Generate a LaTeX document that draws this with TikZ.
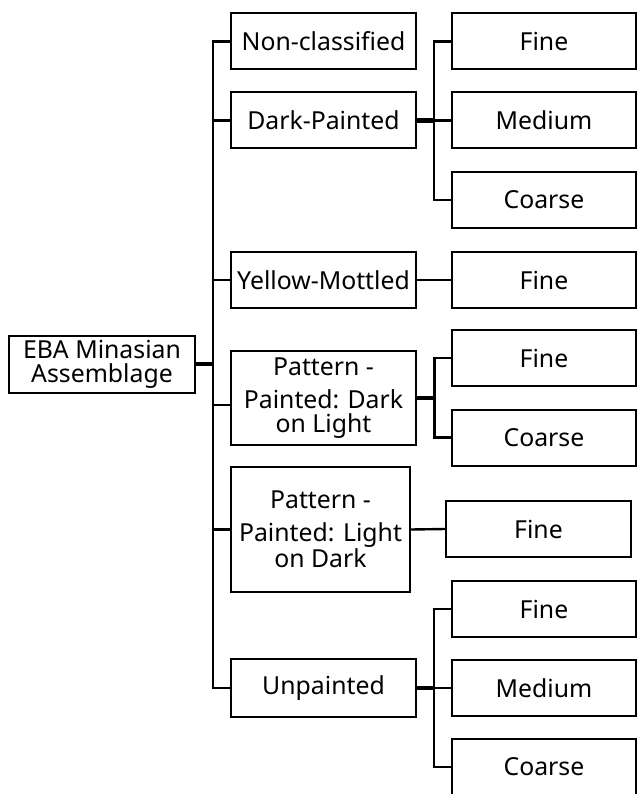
\documentclass[tikz,border=0pt]{standalone}
\usepackage{fontspec}
\setmainfont{Noto Sans}
\usetikzlibrary{positioning}

\tikzset{
  box/.style={draw, line width=2pt, fill=white, inner sep=0pt, align=center,
    font=\fontsize{24.8}{24}\selectfont},
  catbox/.style={box, minimum width=185pt, minimum height=56pt},
  gradebox/.style={box, minimum width=184pt, minimum height=56pt},
  link/.style={line width=2.4pt},
  thicklink/.style={line width=4.5pt}
}

\begin{document}
\begin{tikzpicture}[x=1pt, y=-1pt]
        % Page frame (cuts the boxes at the right and bottom edges)
        \clip (0,0) rectangle (637,794);

        % Assemblage
        \node[box, minimum width=186pt, minimum height=57pt] (root) at (102, 364) {EBA Minasian\\Assemblage};

        % Ware groups
        \node[catbox] (nc) at (323.5, 41.5) {Non-classified};
        \node[catbox] (dp) at (323.5, 120.5) {Dark-Painted};
        \node[catbox] (ym) at (323.5, 280) {Yellow-Mottled};
        \node[catbox, minimum height=94pt] (pdl) at (323.5, 398) {Pattern -\\[9pt]Painted:\,\,Dark\\on Light};
        \node[box, minimum width=179pt, minimum height=125pt] (pld) at (320.5, 529.5) {Pattern -\\[9pt]Painted: Light\\on Dark};
        \node[catbox, minimum height=58pt] (up) at (323.5, 688) {Unpainted};

        % Fabric grades
        \node[gradebox] (dpf) at (544, 41.5) {Fine};
        \node[gradebox] (dpm) at (544, 120.5) {Medium};
        \node[gradebox] (dpc) at (544, 200) {Coarse};
        \node[gradebox] (ymf) at (544, 280) {Fine};
        \node[gradebox] (pdlf) at (544, 358) {Fine};
        \node[gradebox] (pdlc) at (544, 437.5) {Coarse};
        \node[box, minimum width=185pt, minimum height=56pt] (pldf) at (538.5, 529) {Fine};
        \node[gradebox] (upf) at (544, 609) {Fine};
        \node[gradebox] (upm) at (544, 688) {Medium};
        \node[gradebox] (upc) at (544, 767) {Coarse};

        % Main trunk
        \coordinate (rj) at (213, 364);
        \draw[thicklink] (root.east) -- (rj);
        \foreach \n in {nc, dp, ym, pld, up}
            \draw[link] (\n.west) -| (rj);
        \draw[link] ([yshift=-7pt]pdl.west) -| (rj);

        % Branches to the grades
        \coordinate (dj) at (434, 120.5);
        \draw[thicklink] (dp.east) -- (dj);
        \foreach \n in {dpf, dpm, dpc}
            \draw[link] (\n.west) -| (dj);

        \draw[link] (ym.east) -- (ymf.west);

        \coordinate (pj) at (434.5, 398);
        \draw[thicklink] (pdl.east) -- (pj);
        \foreach \n in {pdlf, pdlc}
            \draw[link] (\n.west) -| (pj);

        \draw[link] (pld.east) -- (pldf.west);

        \coordinate (uj) at (434, 688);
        \draw[thicklink] (up.east) -- (uj);
        \foreach \n in {upf, upm, upc}
            \draw[link] (\n.west) -| (uj);
\end{tikzpicture}
\end{document}
